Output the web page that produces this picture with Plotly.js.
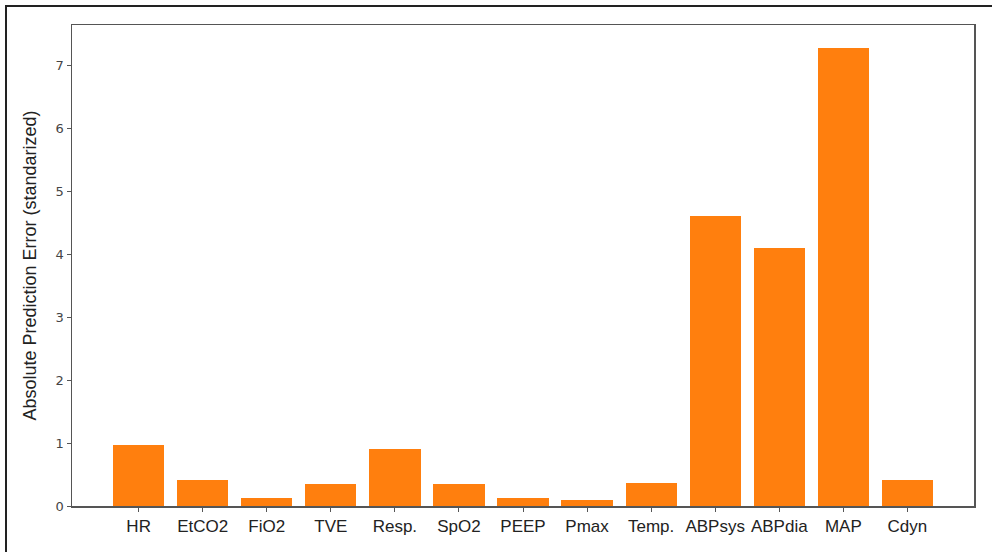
<!DOCTYPE html>
<html>
<head>
<meta charset="utf-8">
<script src="https://cdn.plot.ly/plotly-3.0.1.min.js"></script>
<style>
html,body{margin:0;padding:0;background:#fff;}
#wrap{position:relative;width:992px;height:552px;overflow:hidden;}
#chart{position:absolute;left:0;top:0;width:992px;height:552px;}
#frame{position:absolute;left:5px;top:5px;width:1000px;height:600px;border-top:2px solid #222;border-left:2px solid #222;pointer-events:none;}
</style>
</head>
<body>
<div id="wrap"><div id="chart"></div><div id="frame"></div></div>
<script>
const categories = ["HR","EtCO2","FiO2","TVE","Resp.","SpO2","PEEP","Pmax","Temp.","ABPsys","ABPdia","MAP","Cdyn"];
const errors = [0.97,0.41,0.13,0.35,0.91,0.35,0.13,0.10,0.36,4.62,4.11,7.29,0.42];
const yTicks = [0,1,2,3,4,5,6,7];

const trace = {
  type: "bar",
  x: categories.map((_, i) => i),
  y: errors,
  width: 0.8,
  marker: {color: "#ff7f0e", line: {width: 0}},
  hoverinfo: "skip"
};

const layout = {
  width: 992, height: 552,
  margin: {l: 72, r: 18, t: 25, b: 46},
  paper_bgcolor: "#fff", plot_bgcolor: "#fff",
  showlegend: false,
  bargap: 0,
  font: {family: "Liberation Sans, Arial, sans-serif", color: "#222"},
  xaxis: {
    range: [-1.04, 13.04],
    tickvals: categories.map((_, i) => i),
    ticktext: categories,
    ticks: "outside", ticklen: 4, tickcolor: "#555", tickwidth: 1,
    tickfont: {size: 17, color: "#222"},
    showgrid: false, zeroline: false,
    showline: true, linecolor: "#555", linewidth: 1.5, mirror: true
  },
  yaxis: {
    range: [0, 7.65],
    tickvals: yTicks,
    ticktext: yTicks.map(String),
    ticks: "outside", ticklen: 4, tickcolor: "#555", tickwidth: 1,
    tickfont: {size: 13, color: "#444", family: "DejaVu Sans, sans-serif"},
    showgrid: false, zeroline: false,
    showline: true, linecolor: "#555", linewidth: 1.5, mirror: true,
    title: {text: "Absolute Prediction Error (standarized)", font: {size: 18, color: "#222"}, standoff: 14}
  }
};

Plotly.newPlot("chart", [trace], layout, {displayModeBar: false, staticPlot: true});
</script>
</body>
</html>
